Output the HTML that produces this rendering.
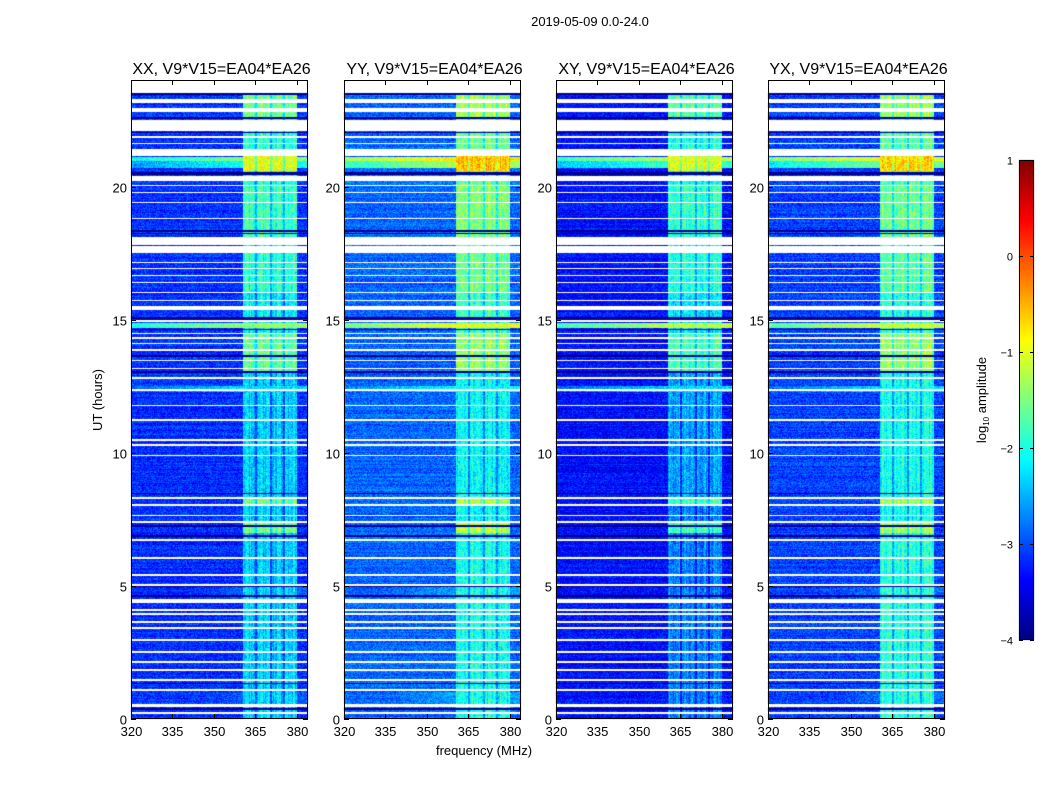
<!DOCTYPE html>
<html><head><meta charset="utf-8">
<style>
body{margin:0;background:#fff;width:1050px;height:800px;overflow:hidden;font-family:"Liberation Sans",sans-serif;}
#wrap{position:relative;width:1050px;height:800px;}
canvas{position:absolute;left:0;top:0;}
</style></head>
<body>
<div id="wrap">
<canvas id="c" width="1050" height="800"></canvas>
<svg id="s" width="1050" height="800" style="position:absolute;left:0;top:0"></svg>
</div>
<script>
// ---- data ----
const panelTitles = ["XX, V9*V15=EA04*EA26","YY, V9*V15=EA04*EA26","XY, V9*V15=EA04*EA26","YX, V9*V15=EA04*EA26"];
const xTicks = [320,335,350,365,380];
const yTicks = [0,5,10,15,20];
const cbTicks = [1,0,-1,-2,-3,-4];
const baseLevel = [-3.35,-3.05,-3.55,-3.25];
const flagged = [[23.53,24],[23.15,23.3],[22.78,22.93],[22.1,22.48],[21.82,21.88],[21.58,21.64],[21.16,21.39],[20.22,20.41],
[20.02,20.07],[19.75,19.8],[19.38,19.43],[18.78,18.83],[17.82,18.09],[17.52,17.75],[17.13,17.18],[16.9,16.95],[16.64,16.69],
[16.38,16.43],[16.0,16.05],[15.7,15.75],[15.35,15.53],[14.9,14.97],[14.46,14.51],[14.28,14.33],[14.08,14.13],[13.83,13.88],
[13.45,13.5],[13.15,13.2],[12.78,12.83],[12.33,12.38],[11.76,11.81],[11.2,11.25],[10.45,10.5],[10.26,10.31],[9.88,9.93],
[8.28,8.33],[8.01,8.06],[7.63,7.68],[7.38,7.43],[6.7,6.75],[6.02,6.07],[5.38,5.43],[5.01,5.06],[4.35,4.5],[4.07,4.12],
[3.92,3.97],[3.62,3.67],[3.39,3.44],[2.94,2.99],[2.49,2.54],[2.12,2.17],[1.82,1.87],[1.44,1.49],[1.07,1.12],[0.45,0.55],[0.17,0.27]];
const darkRows = [[23.45,23.5],[22.55,22.6],[22.0,22.05],[20.44,20.55],[18.3,18.36],[18.2,18.25],[15.0,15.08],[14.6,14.64],
[13.6,13.68],[13.0,13.06],[8.45,8.5],[7.2,7.3],[6.85,6.92],[4.95,5.0],[4.6,4.65],[1.3,1.35],[0.35,0.4]];
// row events: [start,end, XX, YY, XY, YX] log amplitude
const rowEvents = [[20.7,21.1,-2.1,-1.3,-1.9,-1.6],[20.95,21.12,-1.5,-0.7,-1.2,-0.9],[14.68,14.86,-1.4,-0.9,-1.2,-1.1],[12.3,12.5,-2.4,-2.2,-2.4,-2.4],
[0.6,1.0,-3.1,-2.7,-3.5,-3.0],[4.5,5.0,-3.1,-2.7,-3.5,-3.0]];
const rfiBands = [[360.5,364.8],[365.5,370.2],[371.0,375.0],[375.6,380.0]];
// rfi level segments: [start,end, XX, YY, XY, YX]
const rfiLevel = [[0,7.0,-2.5,-2.1,-2.9,-2.0],[7.0,7.4,-1.6,-1.2,-1.8,-1.3],[7.4,8.0,-2.5,-2.2,-2.9,-2.1],[8.0,8.3,-1.7,-1.3,-1.8,-1.3],
[8.3,13.0,-2.5,-2.2,-2.7,-2.1],[13.0,14.5,-1.7,-1.4,-1.8,-1.4],[14.5,16.0,-2.3,-1.9,-2.3,-2.0],[16.0,17.6,-2.0,-1.6,-2.0,-1.7],
[17.6,18.1,-2.3,-1.9,-2.3,-2.0],[18.1,20.1,-1.9,-1.5,-1.9,-1.6],[20.1,20.6,-2.1,-1.7,-2.1,-1.8],[20.6,21.15,-1.0,-0.5,-1.0,-0.6],
[21.15,22.6,-2.0,-1.6,-2.0,-1.7],[22.6,23.5,-1.6,-1.3,-1.7,-1.4]];
// ---- layout ----
const panelX = [131,344,556,768], PW=177, PT=80, PB=719;
const fmin=320,fmax=384,tmin=0,tmax=24;
const cb={x:1019,y:160,w:15,h:480,vmin:-4,vmax:1};
function xs(i,f){return panelX[i]+(f-fmin)/(fmax-fmin)*PW;}
function ys(t){return PB-(t-tmin)/(tmax-tmin)*(PB-PT);}
function jet(v){v=Math.max(0,Math.min(1,v));
 const r=Math.max(0,Math.min(1,1.5-Math.abs(4*v-3))),g=Math.max(0,Math.min(1,1.5-Math.abs(4*v-2))),b=Math.max(0,Math.min(1,1.5-Math.abs(4*v-1)));
 return [r*255|0,g*255|0,b*255|0];}
function hash(a,b,c){let h=(a*374761393+b*668265263+c*2147483647)|0;h=(h^(h>>>13))*1274126177|0;return ((h^(h>>>16))>>>0)/4294967296;}
function inR(t,arr){let res=null;for(const r of arr)if(t>=r[0]&&t<r[1])res=r;return res;}
const ctx=document.getElementById('c').getContext('2d');
const H=PB-PT;
for(let i=0;i<4;i++){
 const img=ctx.createImageData(PW,H);
 for(let py=0;py<H;py++){
  const t=tmin+(H-py-0.5)/H*(tmax-tmin);
  const fl=inR(t,flagged), dk=inR(t,darkRows), ev=inR(t,rowEvents), rl=inR(t,rfiLevel);
  const rowN=(hash(py,i,7)-0.5)*0.3;
  for(let px=0;px<PW;px++){
   const k=(py*PW+px)*4;
   if(fl){img.data[k]=img.data[k+1]=img.data[k+2]=255;img.data[k+3]=255;continue;}
   const f=fmin+(px+0.5)/PW*(fmax-fmin);
   let v=baseLevel[i]+rowN;
   if(ev) v=Math.max(v,ev[2+i]-(f<360?(360-f)/60:0));
   const band=rfiBands.find(b=>f>=b[0]&&f<b[1]);
   if(band&&rl) v=Math.max(v,rl[2+i]+(hash(px,i,3)-0.5)*0.5+(hash(px>>1,py>>2,i+9)-0.5)*0.3);
   else if(f>=360.5&&f<380&&rl) v=Math.max(v,rl[2+i]-0.7);
   if(dk) v=-4.3;
   v+=(hash(px,py,i)-0.5)*0.7;
   const c=jet((v-cb.vmin)/(cb.vmax-cb.vmin)*0.89+0.055);
   img.data[k]=c[0];img.data[k+1]=c[1];img.data[k+2]=c[2];img.data[k+3]=255;
  }
 }
 ctx.putImageData(img,panelX[i],PT);
}
// colorbar
for(let y=0;y<cb.h;y++){const c=jet(1-(y+0.5)/cb.h);ctx.fillStyle=`rgb(${c})`;ctx.fillRect(cb.x,cb.y+y,cb.w,1);}
// ---- svg overlay ----
const NS="http://www.w3.org/2000/svg", svg=document.getElementById('s');
function el(tag,attrs,text){const e=document.createElementNS(NS,tag);for(const a in attrs)e.setAttribute(a,attrs[a]);if(text!==undefined)e.textContent=text;svg.appendChild(e);return e;}
let e=el('text',{x:590,y:26,'font-size':13,'text-anchor':'middle'},"2019-05-09 0.0-24.0");


for(let i=0;i<4;i++){
 e=el('rect',{x:panelX[i]+0.5,y:PT+0.5,width:PW-1,height:H-1,fill:'none',stroke:'#000','stroke-width':1});
 
 
 e=el('text',{x:panelX[i]+PW/2+2,y:74,'font-size':16,'text-anchor':'middle'},panelTitles[i]);
 
 
 for(const f of xTicks){const x=Math.round(xs(i,f))+0.5;
  el('line',{x1:x,x2:x,y1:PB,y2:PB-5,stroke:'#000'});el('line',{x1:x,x2:x,y1:PT,y2:PT+5,stroke:'#000'});
  e=el('text',{x:x,y:PB+17,'font-size':13,'text-anchor':'middle'},String(f));
  
  }
 for(const t of yTicks){const y=Math.round(ys(t))+0.5;
  el('line',{x1:panelX[i],x2:panelX[i]+5,y1:y,y2:y,stroke:'#000'});el('line',{x1:panelX[i]+PW,x2:panelX[i]+PW-5,y1:y,y2:y,stroke:'#000'});
  e=el('text',{x:panelX[i]-4,y:y+5,'font-size':13,'text-anchor':'end'},String(t));
  
  }
}
e=el('text',{x:484,y:755,'font-size':13,'text-anchor':'middle'},"frequency (MHz)");


e=el('text',{x:0,y:0,'font-size':13,'text-anchor':'middle',transform:'translate(102,400) rotate(-90)'},"UT (hours)");


e=el('rect',{x:cb.x+0.5,y:cb.y+0.5,width:cb.w-1,height:cb.h-1,fill:'none',stroke:'#000'});


for(const v of cbTicks){const y=Math.round(cb.y+(cb.vmax-v)/(cb.vmax-cb.vmin)*cb.h)+0.5;
 el('line',{x1:cb.x,x2:cb.x+4,y1:y,y2:y,stroke:'#000'});el('line',{x1:cb.x+cb.w,x2:cb.x+cb.w-4,y1:y,y2:y,stroke:'#000'});
 e=el('text',{x:1013,y:y+4,'font-size':11,'text-anchor':'end'},v<0?'\u2212'+(-v):String(v));
 
 }
e=el('text',{x:0,y:0,'font-size':13,'text-anchor':'middle',transform:'translate(986,400) rotate(-90)'});
e.innerHTML='log<tspan font-size="8" dy="3">10</tspan><tspan dy="-3"> amplitude</tspan>';


</script>
</body></html>
